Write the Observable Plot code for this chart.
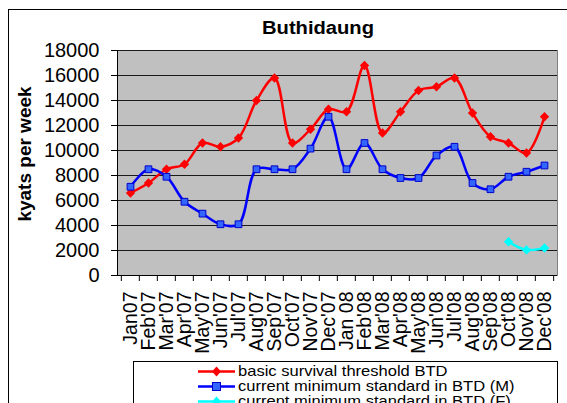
<!DOCTYPE html>
<html><head><meta charset="utf-8">
<script src="https://cdn.jsdelivr.net/npm/d3@7"></script>
<script src="https://cdn.jsdelivr.net/npm/@observablehq/plot@0.6"></script>
<style>
body{margin:0;background:#fff;font-family:"Liberation Sans",Arial,sans-serif;}
#wrap{position:relative;width:567px;height:403px;overflow:hidden;background:#fff;}
#border{position:absolute;left:8px;top:9px;width:700px;height:600px;border:1.5px solid #000;box-sizing:border-box;}
#chart{position:absolute;left:0;top:0;}
#title{position:absolute;left:318px;top:28px;transform:translate(-50%,-50%) scaleX(1.12);font-weight:bold;font-size:18px;white-space:nowrap;}
#ylabel{position:absolute;left:25px;top:154px;transform:translate(-50%,-50%) rotate(-90deg);font-weight:bold;font-size:19px;white-space:nowrap;}
#legend{position:absolute;left:133px;top:361px;width:425px;height:80px;border:1px solid #000;box-sizing:border-box;background:#fff;}
.item{position:absolute;left:64px;height:16px;display:flex;align-items:center;font-size:14.5px;white-space:nowrap;}
.item svg{margin-right:2px;}
.item span{display:inline-block;transform:scaleX(1.14);transform-origin:left center;}
</style></head><body>
<div id="wrap">
 <div id="border"></div>
 <div id="chart"></div>
 <div id="title">Buthidaung</div>
 <div id="ylabel">kyats per week</div>
 <div id="legend"></div>
</div>
<script>
const months = ["Jan07","Feb'07","Mar'07","Apr'07","May'07","Jun'07","Jul'07","Aug'07","Sep'07","Oct'07","Nov'07","Dec'07",
                "Jan 08","Feb'08","Mar'08","Apr'08","May'08","Jun'08","Jul'08","Aug'08","Sep'08","Oct'08","Nov'08","Dec'08"];
const threshold = [6600,7400,8500,8900,10600,10300,11000,14000,15800,10600,11700,13300,
                   13100,16800,11400,13100,14800,15100,15800,13000,11100,10600,9800,12700];
const minStdM = [7100,8500,7900,5900,4950,4100,4100,8500,8500,8500,10150,12700,
                 8500,10600,8500,7800,7800,9600,10300,7400,6900,7900,8300,8800];
const minStdFMonths = ["Oct'08","Nov'08","Dec'08"];
const minStdF = [2700,2050,2200];
const yTicks = [0,2000,4000,6000,8000,10000,12000,14000,16000,18000];
const seriesNames = ["basic survival threshold BTD","current minimum standard in BTD (M)","current minimum standard in BTD (F)"];
const seriesColors = ["#ff0000","#0000ff","#00ffff"];

const W = 567, H = 365, mL = 117, mR = 10, mT = 50, mB = 90;
const bw = (W - mL - mR) / months.length;

const tData = months.map((m, i) => ({m, v: threshold[i]}));
const mData = months.map((m, i) => ({m, v: minStdM[i]}));
const fData = minStdFMonths.map((m, i) => ({m, v: minStdF[i]}));

const chart = Plot.plot({
  width: W, height: H, marginLeft: mL, marginRight: mR, marginTop: mT, marginBottom: mB,
  style: {fontFamily: "'Liberation Sans', Arial, sans-serif", fontSize: "19.5px", background: "transparent", color: "#000"},
  x: {type: "band", domain: months, padding: 0, label: null},
  y: {domain: [0, 18000], label: null},
  marks: [
    Plot.frame({fill: "#c0c0c0", stroke: "#808080"}),
    Plot.gridY(yTicks.filter(d => d > 0), {stroke: "#1a1a1a", strokeOpacity: 1}),
    Plot.ruleY([0], {stroke: "#000"}),
    Plot.frame({anchor: "left", stroke: "#000"}),
    Plot.axisY(yTicks, {tickSize: 6, tickPadding: 12, label: null, fontSize: 20, tickFormat: d => String(d)}),
    Plot.axisX(months, {tickSize: 6, tickFormat: () => "", label: null, dx: -bw / 2}),
    Plot.axisX([months[months.length - 1]], {tickSize: 6, tickFormat: () => "", label: null, dx: bw / 2}),
    Plot.axisX(months, {tickSize: 0, tickRotate: -90, tickPadding: 16, label: null}),
    Plot.line(tData, {x: "m", y: "v", stroke: seriesColors[0], strokeWidth: 2.5, curve: "catmull-rom"}),
    Plot.line(mData, {x: "m", y: "v", stroke: seriesColors[1], strokeWidth: 2.5, curve: "catmull-rom"}),
    Plot.line(fData, {x: "m", y: "v", stroke: seriesColors[2], strokeWidth: 2.5, curve: "catmull-rom"}),
    Plot.dot(tData, {x: "m", y: "v", symbol: "diamond2", fill: seriesColors[0], r: 4.2}),
    Plot.dot(mData, {x: "m", y: "v", symbol: "square", fill: "#3366ff", stroke: "#0000cc", strokeWidth: 1, r: 3.8}),
    Plot.dot(fData, {x: "m", y: "v", symbol: "diamond2", fill: seriesColors[2], r: 4.2})
  ]
});
document.getElementById("chart").appendChild(chart);

// legend
const legend = document.getElementById("legend");
const markers = ["diamond", "square", "diamond"];
seriesNames.forEach((name, i) => {
  const item = document.createElement("div");
  item.className = "item";
  item.style.top = (1 + i * 15) + "px";
  let marker;
  if (markers[i] === "square") marker = `<rect x="14.5" y="3.5" width="8" height="8" fill="#3366ff" stroke="#0000cc"/>`;
  else marker = `<path d="M18.5,2.5 L23,7.5 L18.5,12.5 L14,7.5 Z" fill="${seriesColors[i]}"/>`;
  item.innerHTML = `<svg width="38" height="15"><line x1="0" x2="37" y1="7.5" y2="7.5" stroke="${seriesColors[i]}" stroke-width="2.5"/>${marker}</svg><span>${name}</span>`;
  legend.appendChild(item);
});
</script>
</body></html>
